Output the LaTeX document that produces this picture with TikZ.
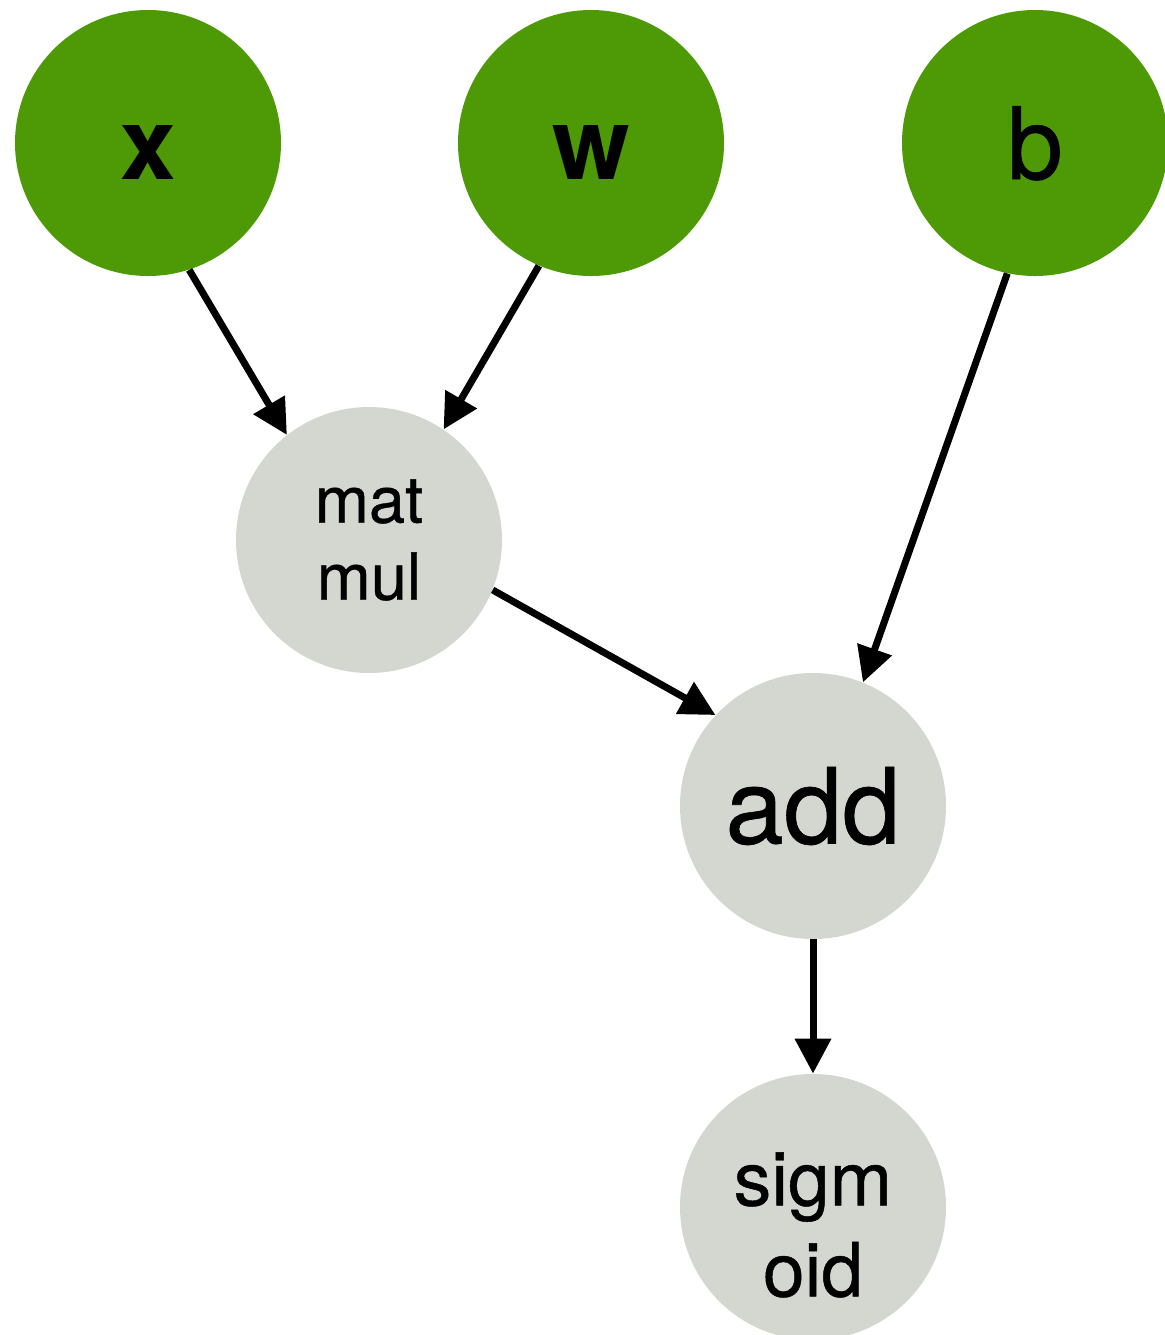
\documentclass[tikz,border=0pt]{standalone}
\usepackage{fontspec}
\setmainfont{TeX Gyre Heros}
\newfontfamily\medfont{TeX Gyre Heros}[FakeBold=0.6]
\usetikzlibrary{arrows.meta}
\definecolor{leafgreen}{HTML}{4E9A06}
\definecolor{opgrey}{HTML}{D3D7CF}
\begin{document}
\begin{tikzpicture}[x=0.5pt,y=-0.5pt,
  leaf/.style={circle,fill=leafgreen,minimum size=133pt,inner sep=0pt,
    font=\fontsize{50}{60}\selectfont,text height=36pt,text depth=0pt},
  op/.style={circle,fill=opgrey,minimum size=133pt,inner sep=0pt},
  flow/.style={line width=3.5pt,-{Triangle[length=17.5pt,width=17.5pt]}}]
\useasboundingbox (0,0) rectangle (1164,1335);
% inputs
\node[leaf] (x) at (148,143) {\bfseries x};
\node[leaf] (w) at (591,143) {\bfseries w};
\node[leaf] (b) at (1035,143) {\medfont b};
% ops
\node[op,align=center,font=\medfont\fontsize{32.5}{38.5}\selectfont] (matmul) at (369,540) {mat\\mul};
\node[op,font=\medfont\fontsize{52.5}{60}\selectfont] (add) at (813,806) {add};
\node[op] (sigmoid) at (813,1207) {};
\node[align=center,font=\medfont\fontsize{37.5}{45.5}\selectfont] (sigtext) at (813,1225) {sigm\\oid};
%
\draw[flow] (x.-72) -- (matmul.128);
\draw[flow] (w.-113) -- (matmul.56);
\draw[flow] (matmul.-22) -- (add.137);
\draw[flow] (b.-102) -- (add.68);
\draw[flow] (add.south) -- (sigmoid.north);
\end{tikzpicture}
\end{document}
